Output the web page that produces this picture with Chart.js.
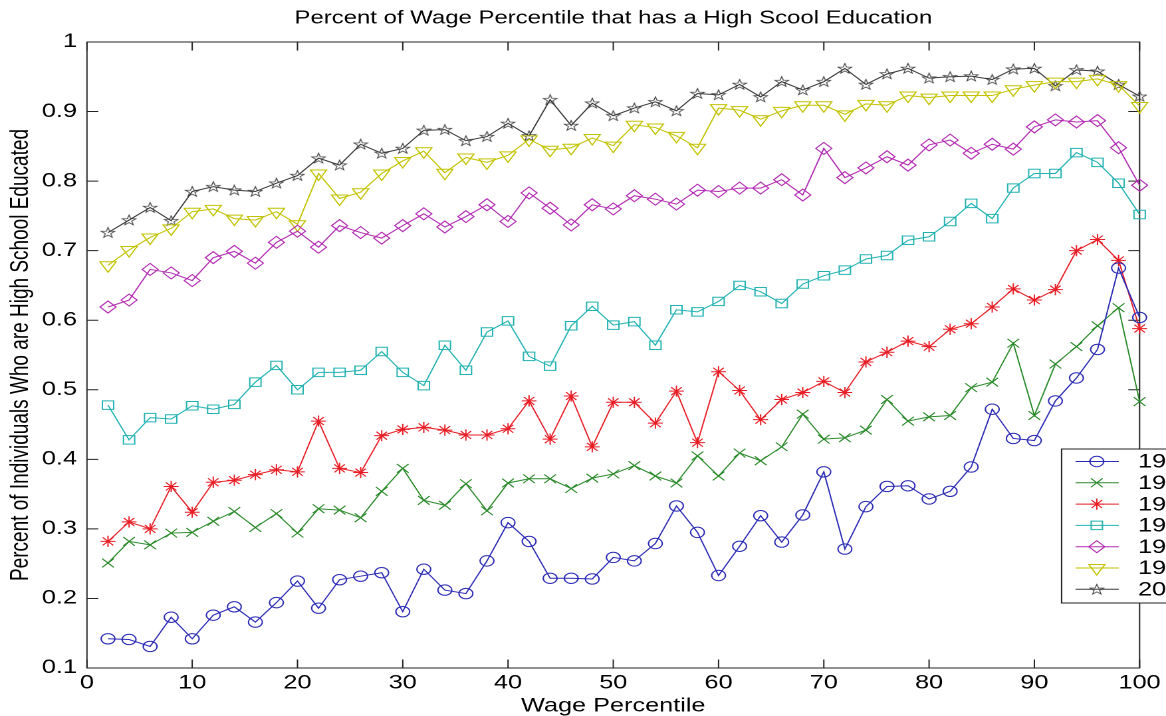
<!DOCTYPE html>
<html lang="en">
<head>
    <meta charset="UTF-8">
    <title>Percent of Wage Percentile that has a High Scool Education</title>
    <script src="https://cdn.jsdelivr.net/npm/chart.js"></script>
    <style>
        body {
            margin: 0;
            background: #fff;
            overflow: hidden;
        }
        /* the original figure was stretched sideways, so the canvas is drawn narrower and widened by CSS */
        #chart {
            width: 1166px;
            height: 716px;
        }
    </style>
</head>
<body>
    <canvas id="chart" width="877" height="716" style="width:1166px;height:716px"></canvas>

    <script>
        // Wage percentiles (x)
        const percentiles = [2, 4, 6, 8, 10, 12, 14, 16, 18, 20, 22, 24, 26, 28, 30, 32, 34, 36, 38, 40,
            42, 44, 46, 48, 50, 52, 54, 56, 58, 60, 62, 64, 66, 68, 70, 72, 74, 76, 78, 80,
            82, 84, 86, 88, 90, 92, 94, 96, 98, 100];

        // Legend labels (cut off at the right edge in the original)
        const years = ['1940', '1950', '1960', '1970', '1980', '1990', '2000'];

        // Share with a high school education, one array per year
        const s1940 = [0.142, 0.141, 0.131, 0.173, 0.142, 0.176, 0.188, 0.166, 0.194, 0.225,
            0.186, 0.227, 0.232, 0.237, 0.181, 0.242, 0.212, 0.207, 0.254, 0.309,
            0.282, 0.229, 0.229, 0.228, 0.259, 0.254, 0.279, 0.333, 0.295, 0.233,
            0.275, 0.319, 0.281, 0.320, 0.382, 0.271, 0.332, 0.361, 0.362, 0.343,
            0.354, 0.389, 0.472, 0.430, 0.427, 0.484, 0.517, 0.558, 0.675, 0.604];
        const s1950 = [0.251, 0.282, 0.277, 0.294, 0.295, 0.311, 0.325, 0.302, 0.322, 0.294,
            0.329, 0.327, 0.316, 0.354, 0.387, 0.341, 0.334, 0.365, 0.326, 0.366,
            0.372, 0.372, 0.358, 0.373, 0.379, 0.391, 0.376, 0.366, 0.405, 0.376,
            0.409, 0.398, 0.418, 0.465, 0.429, 0.431, 0.442, 0.486, 0.455, 0.461,
            0.463, 0.503, 0.511, 0.567, 0.463, 0.537, 0.562, 0.592, 0.618, 0.483];
        const s1960 = [0.282, 0.310, 0.300, 0.361, 0.324, 0.367, 0.370, 0.378, 0.385, 0.382,
            0.455, 0.387, 0.381, 0.434, 0.443, 0.446, 0.442, 0.435, 0.435, 0.444,
            0.484, 0.429, 0.491, 0.418, 0.482, 0.482, 0.452, 0.498, 0.424, 0.526,
            0.499, 0.457, 0.486, 0.496, 0.512, 0.496, 0.540, 0.554, 0.570, 0.562,
            0.587, 0.595, 0.619, 0.645, 0.629, 0.644, 0.700, 0.716, 0.686, 0.588];
        const s1970 = [0.478, 0.428, 0.460, 0.458, 0.477, 0.472, 0.479, 0.511, 0.535, 0.500,
            0.525, 0.525, 0.528, 0.555, 0.525, 0.506, 0.564, 0.528, 0.583, 0.599,
            0.548, 0.534, 0.592, 0.620, 0.593, 0.598, 0.564, 0.615, 0.612, 0.627,
            0.650, 0.641, 0.624, 0.652, 0.664, 0.672, 0.688, 0.693, 0.715, 0.720,
            0.742, 0.768, 0.746, 0.790, 0.811, 0.811, 0.841, 0.827, 0.797, 0.752];
        const s1980 = [0.619, 0.629, 0.673, 0.668, 0.657, 0.690, 0.699, 0.682, 0.712, 0.728,
            0.705, 0.736, 0.726, 0.718, 0.736, 0.753, 0.734, 0.749, 0.766, 0.742,
            0.783, 0.761, 0.737, 0.766, 0.760, 0.779, 0.774, 0.767, 0.787, 0.785,
            0.790, 0.790, 0.802, 0.780, 0.847, 0.805, 0.819, 0.835, 0.823, 0.852,
            0.859, 0.840, 0.853, 0.846, 0.878, 0.888, 0.885, 0.887, 0.848, 0.794];
        const s1990 = [0.679, 0.701, 0.719, 0.732, 0.756, 0.760, 0.746, 0.744, 0.756, 0.738,
            0.811, 0.775, 0.784, 0.811, 0.829, 0.843, 0.812, 0.834, 0.827, 0.837,
            0.860, 0.845, 0.848, 0.862, 0.851, 0.881, 0.877, 0.865, 0.848, 0.905,
            0.902, 0.889, 0.901, 0.909, 0.909, 0.896, 0.911, 0.909, 0.923, 0.920,
            0.923, 0.923, 0.923, 0.932, 0.938, 0.943, 0.943, 0.947, 0.938, 0.908];
        const s2000 = [0.726, 0.744, 0.762, 0.743, 0.785, 0.792, 0.787, 0.785, 0.797, 0.808,
            0.833, 0.823, 0.853, 0.840, 0.847, 0.873, 0.874, 0.858, 0.864, 0.883,
            0.865, 0.917, 0.880, 0.912, 0.894, 0.905, 0.914, 0.901, 0.926, 0.924,
            0.939, 0.921, 0.943, 0.931, 0.943, 0.962, 0.939, 0.954, 0.962, 0.948,
            0.950, 0.951, 0.946, 0.961, 0.962, 0.937, 0.960, 0.958, 0.939, 0.922];

        const FONT = 'Arial, "Liberation Sans", sans-serif';

        // pentagram marker for the last series (no built-in style for it)
        // drawn at double size, shown at 12x12 so it stays sharp
        function pentagram(color) {
            const c = document.createElement('canvas');
            c.width = 24; c.height = 24;
            const g = c.getContext('2d');
            g.strokeStyle = color;
            g.lineWidth = 1.4;
            g.beginPath();
            for (let k = 0; k < 10; k++) {
                const r = k % 2 === 0 ? 10.8 : 4.3;
                const a = -Math.PI / 2 + k * Math.PI / 5;
                const px = 12 + r * Math.cos(a), py = 12.8 + r * Math.sin(a);
                if (k === 0) g.moveTo(px, py); else g.lineTo(px, py);
            }
            g.closePath();
            g.stroke();
            const img = new Image(12, 12);
            img.src = c.toDataURL();
            return img;
        }

        function serie(label, data, color, style, radius, rotation) {
            return {
                label: label,
                data: data,
                borderColor: color,
                borderWidth: 1,
                pointStyle: style,
                pointRadius: radius,
                pointRotation: rotation || 0,
                pointBorderColor: color,
                pointBackgroundColor: 'rgba(0,0,0,0)',
                pointBorderWidth: 1,
                tension: 0,
                clip: false
            };
        }

        // box round the axes with inward tick marks, like the original
        const frame = {
            id: 'frame',
            beforeDatasetsDraw(chart) {
                const {ctx, chartArea: a, scales: {x, y}} = chart;
                const tl = 8.5;
                ctx.save();
                ctx.strokeStyle = '#222';
                ctx.lineWidth = 1;
                ctx.strokeRect(a.left, a.top, a.right - a.left, a.bottom - a.top);
                ctx.beginPath();
                x.ticks.forEach(t => {
                    const px = x.getPixelForValue(t.value);
                    ctx.moveTo(px, a.bottom); ctx.lineTo(px, a.bottom - tl);
                    ctx.moveTo(px, a.top); ctx.lineTo(px, a.top + tl);
                });
                y.ticks.forEach(t => {
                    const py = y.getPixelForValue(t.value);
                    ctx.moveTo(a.left, py); ctx.lineTo(a.left + tl, py);
                    ctx.moveTo(a.right, py); ctx.lineTo(a.right - tl, py);
                });
                ctx.stroke();
                ctx.restore();
            }
        };

        // legend box sitting inside the axes at the right, running off the picture
        const legendBox = {
            id: 'legendBox',
            afterDraw(chart) {
                const {ctx, chartArea: a} = chart;
                const left = a.right - 58.7;
                const top = a.bottom - 219;
                ctx.save();
                ctx.fillStyle = '#fff';
                ctx.fillRect(left, top, 120, 154);
                ctx.strokeStyle = '#222';
                ctx.lineWidth = 1;
                ctx.strokeRect(left, top, 120, 154);
                chart.data.datasets.forEach((ds, i) => {
                    const yy = top + 12.5 + i * 21.3;
                    ctx.strokeStyle = ds.borderColor;
                    ctx.lineWidth = 1;
                    ctx.beginPath();
                    ctx.moveTo(left + 10.5, yy);
                    ctx.lineTo(left + 43, yy);
                    ctx.stroke();
                    ctx.fillStyle = 'rgba(0,0,0,0)';
                    Chart.helpers.drawPoint(ctx, {
                        pointStyle: ds.pointStyle,
                        radius: ds.pointRadius,
                        rotation: ds.pointRotation,
                        borderWidth: 1
                    }, left + 26.5, yy);
                    ctx.fillStyle = '#000';
                    ctx.font = '19px ' + FONT;
                    ctx.textBaseline = 'middle';
                    ctx.textAlign = 'left';
                    ctx.fillText(ds.label, left + 57.5, yy + 1);
                });
                ctx.restore();
            }
        };

        const starMarker = pentagram('#3a3a3a');

        function drawChart() {
            const ctx = document.getElementById('chart').getContext('2d');
            return new Chart(ctx, {
                type: 'line',
                data: {
                    labels: percentiles,
                    datasets: [
                        serie(years[0], s1940, '#2a2ab5', 'circle', 5.2),
                        serie(years[1], s1950, '#2a8a2a', 'crossRot', 6.2),
                        serie(years[2], s1960, '#e81c24', 'star', 5.6),
                        serie(years[3], s1970, '#22b2b2', 'rect', 6),
                        serie(years[4], s1980, '#b22ab2', 'rectRot', 6),
                        serie(years[5], s1990, '#c2c200', 'triangle', 7, 180),
                        serie(years[6], s2000, '#3a3a3a', starMarker, 6)
                    ]
                },
                options: {
                    responsive: false,
                    devicePixelRatio: 2,
                    animation: false,
                    layout: {
                        padding: {top: 0, right: 16.5, bottom: 0, left: 0}
                    },
                    plugins: {
                        legend: {display: false},
                        tooltip: {enabled: false}
                    },
                    scales: {
                        x: {
                            type: 'linear',
                            position: 'bottom',
                            min: 0,
                            max: 100,
                            grid: {display: false, drawTicks: false},
                            border: {display: false},
                            ticks: {
                                stepSize: 10,
                                padding: 4,
                                color: '#000',
                                font: {family: FONT, size: 19}
                            },
                            title: {
                                display: true,
                                text: 'Wage Percentile',
                                color: '#000',
                                font: {family: FONT, size: 19, lineHeight: 1},
                                padding: 0
                            },
                            afterFit: s => { s.height = 48; }
                        },
                        xTop: {
                            type: 'linear',
                            position: 'top',
                            min: 0,
                            max: 100,
                            grid: {display: false, drawTicks: false},
                            border: {display: false},
                            ticks: {display: false},
                            title: {
                                display: true,
                                text: 'Percent of Wage Percentile that has a High Scool Education',
                                color: '#000',
                                font: {family: FONT, size: 18},
                                padding: {top: 7.5, bottom: 0}
                            },
                            afterFit: s => { s.height = 42; }
                        },
                        y: {
                            min: 0.1,
                            max: 1,
                            grid: {display: false, drawTicks: false},
                            border: {display: false},
                            ticks: {
                                stepSize: 0.1,
                                padding: 7.5,
                                color: '#000',
                                font: {family: FONT, size: 19},
                                callback: v => Number(v.toFixed(1)).toString()
                            },
                            title: {
                                display: true,
                                text: 'Percent of Individuals Who are High School Educated',
                                color: '#000',
                                font: {family: FONT, size: 19},
                                padding: {top: 4.5, bottom: 0}
                            },
                            afterFit: s => { s.width = 65.4; }
                        }
                    }
                },
                plugins: [frame, legendBox]
            });
        }

        // wait for the star image before drawing
        if (starMarker.complete) {
            drawChart();
        } else {
            starMarker.onload = drawChart;
        }
    </script>
</body>
</html>
